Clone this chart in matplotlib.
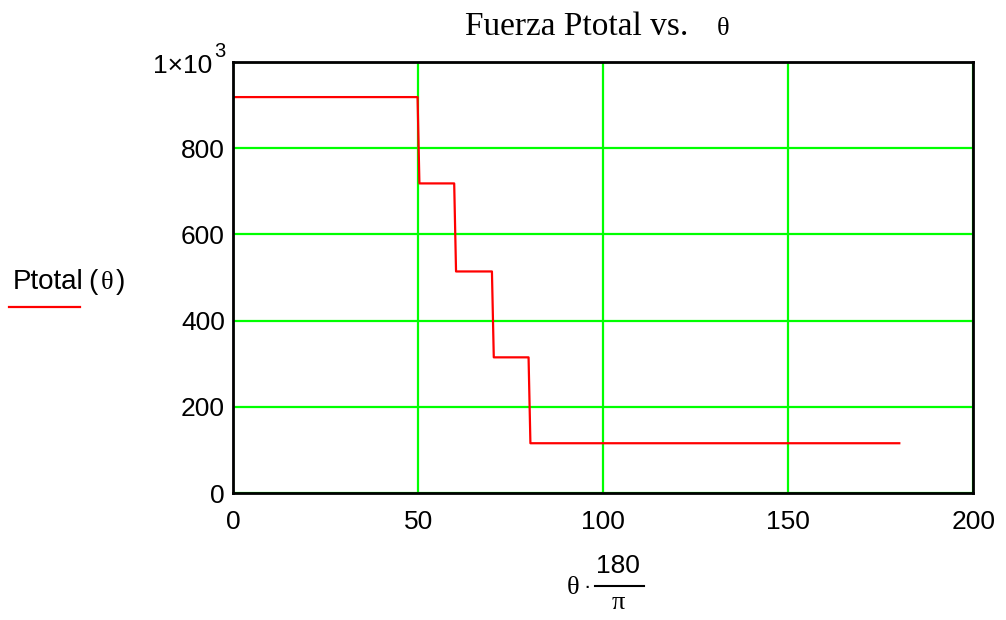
import numpy as np
import matplotlib.pyplot as plt
from matplotlib.lines import Line2D

# step function (theta in degrees, Ptotal)
theta_deg = [0, 49.8, 50.3, 59.7, 60.2, 69.9, 70.4, 79.8, 80.3, 180]
ptotal = [918, 918, 718, 718, 514, 514, 315, 315, 116, 116]

x_ticks = [0, 50, 100, 150, 200]
y_ticks = [0, 200, 400, 600, 800, 1000]
y_labels = ['0', '200', '400', '600', '800', '']  # 1x10^3 drawn by hand below

W, H = 1006, 620
fig = plt.figure(figsize=(W / 100, H / 100), dpi=100)
ax = fig.add_axes([233.3 / W, 1 - 493.3 / H, 740 / W, 431.6 / H])

ax.plot(theta_deg, ptotal, color='#ff0000', lw=1.6, zorder=3)

ax.set_xlim(0, 200)
ax.set_ylim(0, 1000)
ax.set_xticks(x_ticks)
ax.set_yticks(y_ticks)
ax.set_yticklabels(y_labels)
for v in x_ticks:
    ax.axvline(v, color='#00ff00', lw=1.6, zorder=1)
for v in y_ticks:
    ax.axhline(v, color='#00ff00', lw=1.6, zorder=1)

for s in ax.spines.values():
    s.set_linewidth(2)
    s.set_color('black')
    s.set_zorder(4)

ax.tick_params(axis='both', length=0, labelsize=19)
ax.tick_params(axis='x', pad=12)
ax.tick_params(axis='y', pad=6)
for lab in ax.get_xticklabels() + ax.get_yticklabels():
    lab.set_fontfamily('Liberation Sans')

# top y label  1x10^3  (big superscript like Mathcad)
fig.text(212 / W, 1 - 73 / H, '1×10', family='Liberation Sans', size=19,
         va='baseline', ha='right')
fig.text(214 / W, 1 - 57 / H, '3', family='Liberation Sans', size=14.5,
         va='baseline', ha='left')

greek = 19  # serif greek letters look large in the reference

# title
fig.text(465 / W, 1 - 35 / H, 'Fuerza Ptotal vs.', family='Liberation Serif',
         size=24, va='baseline', ha='left')
fig.text(717 / W, 1 - 35 / H, 'θ', family='Liberation Serif', size=greek,
         va='baseline', ha='left')

# y label with legend line
fig.text(13 / W, 1 - 289 / H, 'Ptotal', family='Liberation Sans', size=20,
         va='baseline', ha='left')
fig.text(88 / W, 1 - 289 / H, '(', family='Liberation Sans', size=20,
         va='baseline', ha='left')
fig.text(101 / W, 1 - 289 / H, 'θ', family='Liberation Serif', size=greek,
         va='baseline', ha='left')
fig.text(116 / W, 1 - 289 / H, ')', family='Liberation Sans', size=20,
         va='baseline', ha='left')
fig.add_artist(Line2D([8.5 / W, 80 / W], [1 - 307 / H, 1 - 307 / H],
                      color='#ff0000', lw=1.6))

# x label: theta * 180 / pi
fig.text(567 / W, 1 - 594 / H, 'θ', family='Liberation Serif', size=greek,
         va='baseline', ha='left')
fig.text(587 / W, 1 - 588 / H, '·', family='Liberation Sans', size=16,
         va='center', ha='center')
fig.text(617.5 / W, 1 - 573 / H, '180', family='Liberation Sans', size=19,
         va='baseline', ha='center')
fig.add_artist(Line2D([595 / W, 644 / W], [1 - 586 / H, 1 - 586 / H],
                      color='black', lw=1.5))
fig.text(618 / W, 1 - 609 / H, 'π', family='Liberation Serif', size=greek,
         va='baseline', ha='center')

fig.savefig('out.png', dpi=100)
